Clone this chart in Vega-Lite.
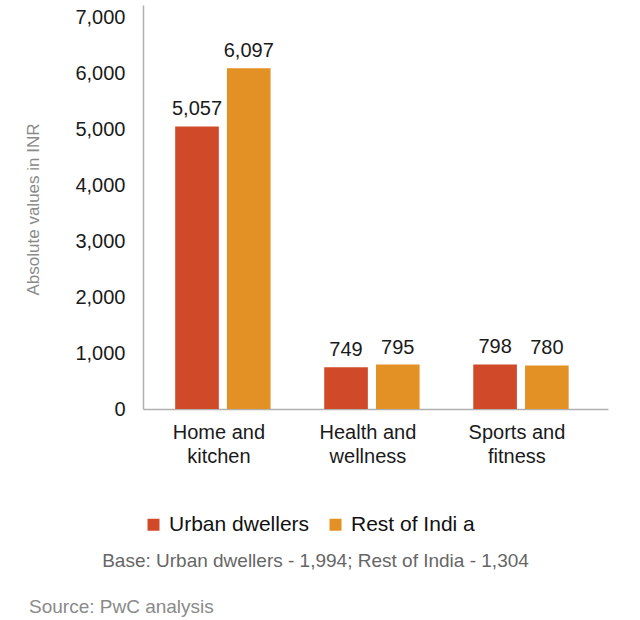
{
  "$schema": "https://vega.github.io/schema/vega-lite/v6.json",
  "autosize": {"type": "none"},
  "width": 465,
  "height": 404,
  "padding": {"left": 143, "top": 5, "right": 32, "bottom": 211},
  "background": "white",
  "config": {
    "font": "Liberation Sans",
    "view": {"stroke": null}
  },
  "title": {
    "text": "Source: PwC analysis",
    "orient": "bottom",
    "anchor": "start",
    "frame": "bounds",
    "offset": 28,
    "dx": 5,
    "fontSize": 19,
    "fontWeight": "normal",
    "color": "#8a8a8a"
  },
  "data": {
    "values": [
      {"category": "Home and kitchen", "group": "Urban dwellers", "value": 5057},
      {"category": "Home and kitchen", "group": "Rest of Indi a", "value": 6097},
      {"category": "Health and wellness", "group": "Urban dwellers", "value": 749},
      {"category": "Health and wellness", "group": "Rest of Indi a", "value": 795},
      {"category": "Sports and fitness", "group": "Urban dwellers", "value": 798},
      {"category": "Sports and fitness", "group": "Rest of Indi a", "value": 780}
    ]
  },
  "encoding": {
    "x": {
      "field": "category",
      "type": "nominal",
      "sort": null,
      "scale": {"paddingInner": 0.36, "paddingOuter": 0.24, "align": 0.45},
      "axis": {
        "title": "Base: Urban dwellers - 1,994; Rest of India - 1,304",
        "titleX": 172,
        "titleY": 151,
        "titleAlign": "center",
        "titleBaseline": "middle",
        "titleFontSize": 19,
        "titleFontWeight": "normal",
        "titleColor": "#666666",
        "labelAngle": 0,
        "labelExpr": "[slice(datum.value, 0, lastindexof(datum.value, ' ')), slice(datum.value, lastindexof(datum.value, ' ') + 1)]",
        "labelFontSize": 20,
        "labelLineHeight": 24,
        "labelColor": "#1a1a1a",
        "labelPadding": 13,
        "labelOffset": -4,
        "ticks": false,
        "domainColor": "#b0b0b0",
        "domainWidth": 1.5
      }
    },
    "xOffset": {
      "field": "group",
      "type": "nominal",
      "sort": ["Urban dwellers", "Rest of Indi a"],
      "scale": {"paddingInner": 0.157, "paddingOuter": 0}
    },
    "y": {
      "field": "value",
      "type": "quantitative",
      "scale": {"domain": [0, 7230], "nice": false},
      "axis": {
        "values": [0, 1000, 2000, 3000, 4000, 5000, 6000, 7000],
        "labelExpr": "format(datum.value, ',')",
        "title": "Absolute values in INR",
        "titleX": -110,
        "titleY": 204,
        "titleAngle": 270,
        "titleAlign": "center",
        "titleBaseline": "middle",
        "titleFontSize": 17,
        "titleFontWeight": "normal",
        "titleColor": "#8a8a8a",
        "labelFontSize": 20,
        "labelColor": "#1a1a1a",
        "labelPadding": 18,
        "ticks": false,
        "grid": false,
        "domainColor": "#b0b0b0",
        "domainWidth": 1.5
      }
    }
  },
  "layer": [
    {
      "mark": {"type": "bar"},
      "encoding": {
        "color": {
          "field": "group",
          "type": "nominal",
          "sort": ["Urban dwellers", "Rest of Indi a"],
          "scale": {"domain": ["Urban dwellers", "Rest of Indi a"], "range": ["#D04A29", "#E39124"]},
          "legend": {
            "title": null,
            "orient": "none",
            "direction": "horizontal",
            "legendX": 0,
            "legendY": 509,
            "symbolType": "square",
            "symbolSize": 144,
            "symbolStrokeWidth": 0,
            "labelFontSize": 21,
            "labelColor": "#111111",
            "labelOffset": 5,
            "columnPadding": 15,
            "padding": 0
          }
        }
      }
    },
    {
      "mark": {"type": "text", "baseline": "alphabetic", "dy": -11, "fontSize": 20, "color": "#1a1a1a"},
      "encoding": {
        "text": {"field": "value", "type": "quantitative", "format": ","}
      }
    }
  ]
}
